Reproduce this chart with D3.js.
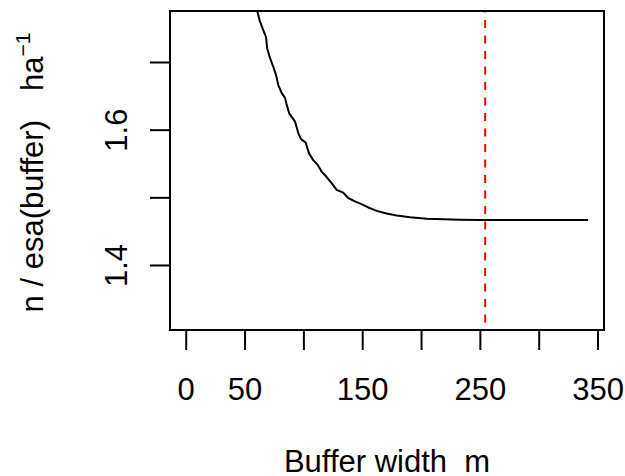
<!DOCTYPE html>
<html>
<head>
<meta charset="utf-8">
<script src="https://cdn.jsdelivr.net/npm/d3@7"></script>
<style>
  body { margin: 0; background: #fff; }
  text { font-family: "Liberation Sans", Arial, sans-serif; }
</style>
</head>
<body>
<div id="content"></div>
<script>
// curve: buffer width (m) vs n / esa(buffer)
const bufferWidth = [57, 60.8, 63.1, 65.9, 68.2, 69.3, 71.6, 74.4, 76.7, 78.7, 81.6, 84.4, 85.8, 88.0,
    92.9, 95.7, 98.0, 101.9, 104.8, 108.4, 112.1, 115.5, 119.8, 124.0, 128.3, 133.9, 138.1, 143.8,
    149.5, 155.1, 162.3, 170.8, 179.3, 190.6, 204.7, 218.9, 233.0, 250, 342];
const density = [1.800, 1.775, 1.760, 1.747, 1.737, 1.720, 1.706, 1.693, 1.681, 1.666, 1.654, 1.647, 1.637, 1.624,
    1.612, 1.595, 1.586, 1.581, 1.565, 1.555, 1.548, 1.538, 1.530, 1.521, 1.511, 1.507, 1.499, 1.494,
    1.490, 1.485, 1.480, 1.476, 1.473, 1.4705, 1.4684, 1.4675, 1.4670, 1.4665, 1.4665];

const cutoff = 254.5;   // red dashed line

const xTicks = [0, 50, 100, 150, 200, 250, 300, 350];
const xLabelled = [0, 50, 150, 250, 350];
const yTicks = [1.4, 1.5, 1.6, 1.7];
const yLabelled = [1.4, 1.6];

const data = bufferWidth.map((x, i) => ({ x: x, y: density[i] }));

//////////////////// drawing area
const W = 625, H = 476;
const margin = { left: 170, right: 21, top: 11, bottom: 146 };
const iW = W - margin.left - margin.right;
const iH = H - margin.top - margin.bottom;
const fs = 31;

const xScale = d3.scaleLinear().domain([-13.35, 355.5]).range([0, iW]);
const yScale = d3.scaleLinear().domain([1.3039, 1.7754]).range([iH, 0]);

const svg = d3.select("#content").append("svg")
    .attr("width", W)
    .attr("height", H);

svg.append("rect").attr("width", W).attr("height", H).attr("fill", "#fff");

svg.append("defs").append("clipPath").attr("id", "plotclip")
    .append("rect").attr("width", iW).attr("height", iH);

const diagram = svg.append("g")
    .attr("transform", "translate(" + margin.left + "," + margin.top + ")");

const plot = diagram.append("g").attr("clip-path", "url(#plotclip)");

const lineGenerator = d3.line()
    .x(d => xScale(d.x))
    .y(d => yScale(d.y));

plot.append("path")
    .datum(data)
    .attr("d", lineGenerator)
    .attr("fill", "none")
    .attr("stroke", "#000")
    .attr("stroke-width", 2)
    .attr("stroke-linejoin", "round");

plot.append("line")
    .attr("x1", xScale(cutoff)).attr("x2", xScale(cutoff))
    .attr("y1", 0).attr("y2", iH)
    .attr("stroke", "#ff0000")
    .attr("stroke-width", 2)
    .attr("stroke-dasharray", "8,7.5")
    .attr("stroke-dashoffset", -9);

// box
diagram.append("rect")
    .attr("width", iW).attr("height", iH)
    .attr("fill", "none")
    .attr("stroke", "#000")
    .attr("stroke-width", 2);

// x axis
const xAxis = diagram.append("g")
    .attr("transform", "translate(0," + iH + ")")
    .call(d3.axisBottom(xScale)
        .tickValues(xTicks)
        .tickSize(20)
        .tickSizeOuter(0)
        .tickFormat(d => xLabelled.includes(d) ? d : ""));
xAxis.select(".domain").remove();
xAxis.selectAll(".tick line").attr("stroke", "#000").attr("stroke-width", 2);
xAxis.selectAll(".tick text")
    .attr("y", 70).attr("dy", 0)
    .attr("font-size", fs)
    .attr("font-family", "Liberation Sans, Arial, sans-serif")
    .attr("fill", "#000");

// y axis
const yAxis = diagram.append("g")
    .call(d3.axisLeft(yScale)
        .tickValues(yTicks)
        .tickSize(20)
        .tickSizeOuter(0)
        .tickFormat(d => yLabelled.includes(d) ? d3.format(".1f")(d) : ""));
yAxis.select(".domain").remove();
yAxis.selectAll(".tick line").attr("stroke", "#000").attr("stroke-width", 2);
yAxis.selectAll(".tick text")
    .attr("x", 0).attr("dy", 0)
    .attr("transform", "translate(-43,0) rotate(-90)")
    .attr("text-anchor", "middle")
    .attr("font-size", fs)
    .attr("font-family", "Liberation Sans, Arial, sans-serif")
    .attr("fill", "#000");

// axis titles
svg.append("text")
    .attr("x", margin.left + iW / 2)
    .attr("y", 472)
    .attr("text-anchor", "middle")
    .attr("font-size", fs)
    .style("white-space", "pre")
    .text("Buffer width  m");

const yTitle = svg.append("text")
    .attr("transform", "translate(43," + (margin.top + iH / 2 + 2) + ") rotate(-90)")
    .attr("text-anchor", "middle")
    .attr("font-size", fs)
    .style("white-space", "pre");
yTitle.append("tspan").text("n / esa(buffer)");
yTitle.append("tspan").attr("dx", 29).text("ha");
yTitle.append("tspan").attr("dy", -13).attr("font-size", 21).text("\u22121");
</script>
</body>
</html>
